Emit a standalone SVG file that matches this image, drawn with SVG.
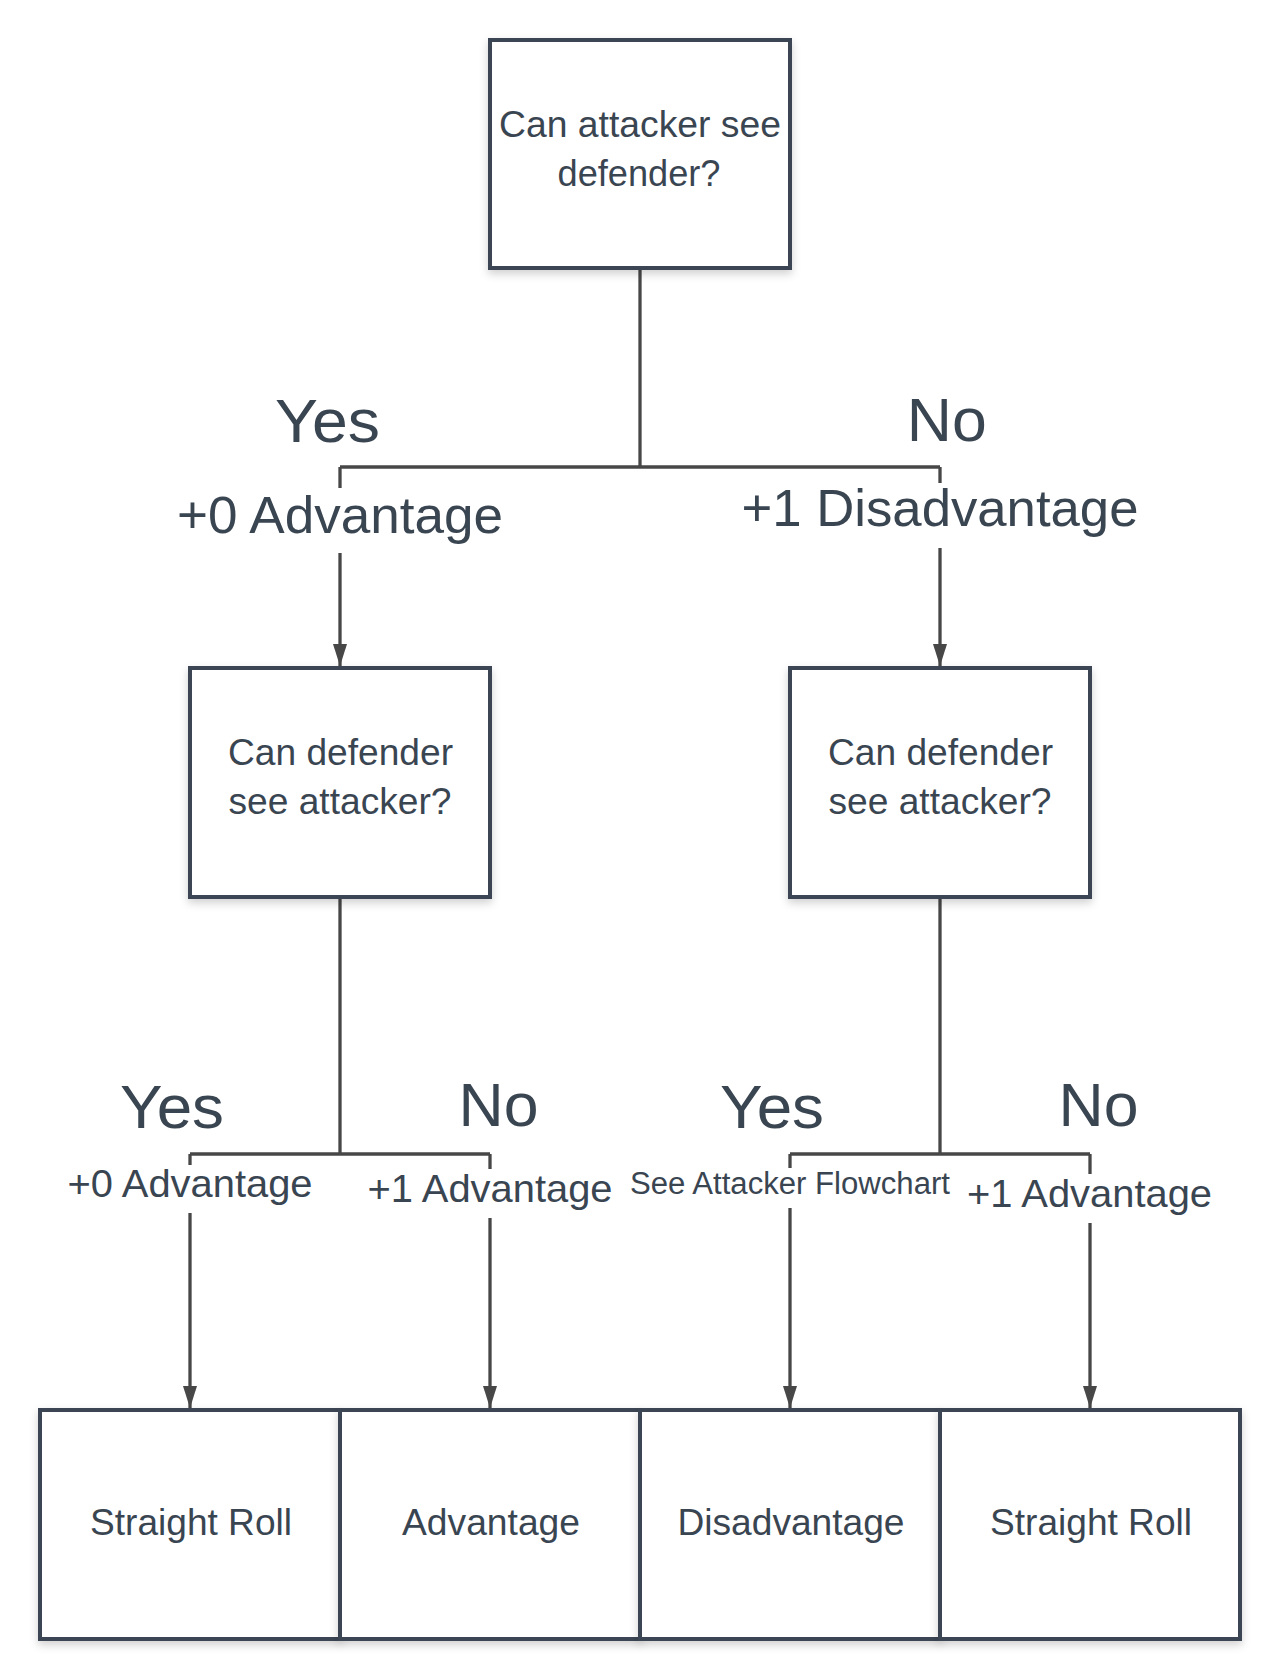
<svg xmlns="http://www.w3.org/2000/svg" width="1280" height="1680" viewBox="0 0 1280 1680">
<defs>
<style>
.box{fill:#ffffff;stroke:#3a4552;stroke-width:4;filter:url(#sh)}
.t{font-family:"Liberation Sans",Arial,sans-serif;fill:#3a4552;text-anchor:middle}
.bt{font-size:36px}
.big{font-size:62px}
.l1{font-size:52px}
.l2{font-size:39.5px}
.conn path{fill:none;stroke:#474747;stroke-width:3.3}
</style>
<filter id="sh" x="-10%" y="-10%" width="120%" height="125%">
<feDropShadow dx="0" dy="4" stdDeviation="4" flood-color="#000000" flood-opacity="0.18"/>
</filter>
<marker id="arr" markerUnits="userSpaceOnUse" markerWidth="22" markerHeight="14" refX="22" refY="7" orient="auto">
<path d="M0,0 L22,7 L0,14 z" fill="#474747"/>
</marker>
</defs>
<rect width="1280" height="1680" fill="#ffffff"/>

<g id="connectors" class="conn">
<path d="M640 268 V467"/>
<path d="M340 467 H940"/>
<path d="M340 467 V488"/>
<path d="M340 553 V666" marker-end="url(#arr)"/>
<path d="M940 467 V483"/>
<path d="M940 548 V666" marker-end="url(#arr)"/>
<path d="M340 897 V1154"/>
<path d="M190 1154 H490"/>
<path d="M190 1154 V1165"/>
<path d="M190 1213 V1408" marker-end="url(#arr)"/>
<path d="M490 1154 V1169"/>
<path d="M490 1218 V1408" marker-end="url(#arr)"/>
<path d="M940 897 V1154"/>
<path d="M790 1154 H1090"/>
<path d="M790 1154 V1168"/>
<path d="M790 1208 V1408" marker-end="url(#arr)"/>
<path d="M1090 1154 V1174"/>
<path d="M1090 1223 V1408" marker-end="url(#arr)"/>
</g>

<g id="labels">
<text class="t big" x="327.5" y="442" textLength="105" lengthAdjust="spacingAndGlyphs">Yes</text>
<text class="t big" x="946.7" y="441" textLength="80" lengthAdjust="spacingAndGlyphs">No</text>
<text class="t l1" x="340" y="533" textLength="326" lengthAdjust="spacingAndGlyphs">+0 Advantage</text>
<text class="t l1" x="940" y="526" textLength="397" lengthAdjust="spacingAndGlyphs">+1 Disadvantage</text>
<text class="t big" x="172" y="1128" textLength="104" lengthAdjust="spacingAndGlyphs">Yes</text>
<text class="t big" x="498.6" y="1126" textLength="80" lengthAdjust="spacingAndGlyphs">No</text>
<text class="t big" x="772" y="1128" textLength="104" lengthAdjust="spacingAndGlyphs">Yes</text>
<text class="t big" x="1098.6" y="1126" textLength="80" lengthAdjust="spacingAndGlyphs">No</text>
<text class="t l2" x="190" y="1197" textLength="245" lengthAdjust="spacingAndGlyphs">+0 Advantage</text>
<text class="t l2" x="490" y="1202" textLength="245" lengthAdjust="spacingAndGlyphs">+1 Advantage</text>
<text class="t" style="font-size:31px" x="790" y="1194" textLength="320" lengthAdjust="spacingAndGlyphs">See Attacker Flowchart</text>
<text class="t l2" x="1089.5" y="1207" textLength="245" lengthAdjust="spacingAndGlyphs">+1 Advantage</text>
</g>

<g id="q1">
<rect class="box" x="490" y="40" width="300" height="228"/>
<text class="t bt" x="640" y="137" textLength="282" lengthAdjust="spacingAndGlyphs">Can attacker see</text>
<text class="t bt" x="639" y="186" textLength="163" lengthAdjust="spacingAndGlyphs">defender?</text>
</g>

<g id="q2-left">
<rect class="box" x="190" y="668" width="300" height="229"/>
<text class="t bt" x="340.5" y="765" textLength="225" lengthAdjust="spacingAndGlyphs">Can defender</text>
<text class="t bt" x="340" y="814" textLength="223" lengthAdjust="spacingAndGlyphs">see attacker?</text>
</g>

<g id="q2-right">
<rect class="box" x="790" y="668" width="300" height="229"/>
<text class="t bt" x="940.5" y="765" textLength="225" lengthAdjust="spacingAndGlyphs">Can defender</text>
<text class="t bt" x="940" y="814" textLength="223" lengthAdjust="spacingAndGlyphs">see attacker?</text>
</g>

<g id="r1">
<rect class="box" x="40" y="1410" width="300" height="229"/>
<text class="t bt" x="191" y="1535" textLength="202" lengthAdjust="spacingAndGlyphs">Straight Roll</text>
</g>
<g id="r2">
<rect class="box" x="340" y="1410" width="300" height="229"/>
<text class="t bt" x="491" y="1535" textLength="178" lengthAdjust="spacingAndGlyphs">Advantage</text>
</g>
<g id="r3">
<rect class="box" x="640" y="1410" width="300" height="229"/>
<text class="t bt" x="791" y="1535" textLength="227" lengthAdjust="spacingAndGlyphs">Disadvantage</text>
</g>
<g id="r4">
<rect class="box" x="940" y="1410" width="300" height="229"/>
<text class="t bt" x="1091" y="1535" textLength="202" lengthAdjust="spacingAndGlyphs">Straight Roll</text>
</g>
</svg>
